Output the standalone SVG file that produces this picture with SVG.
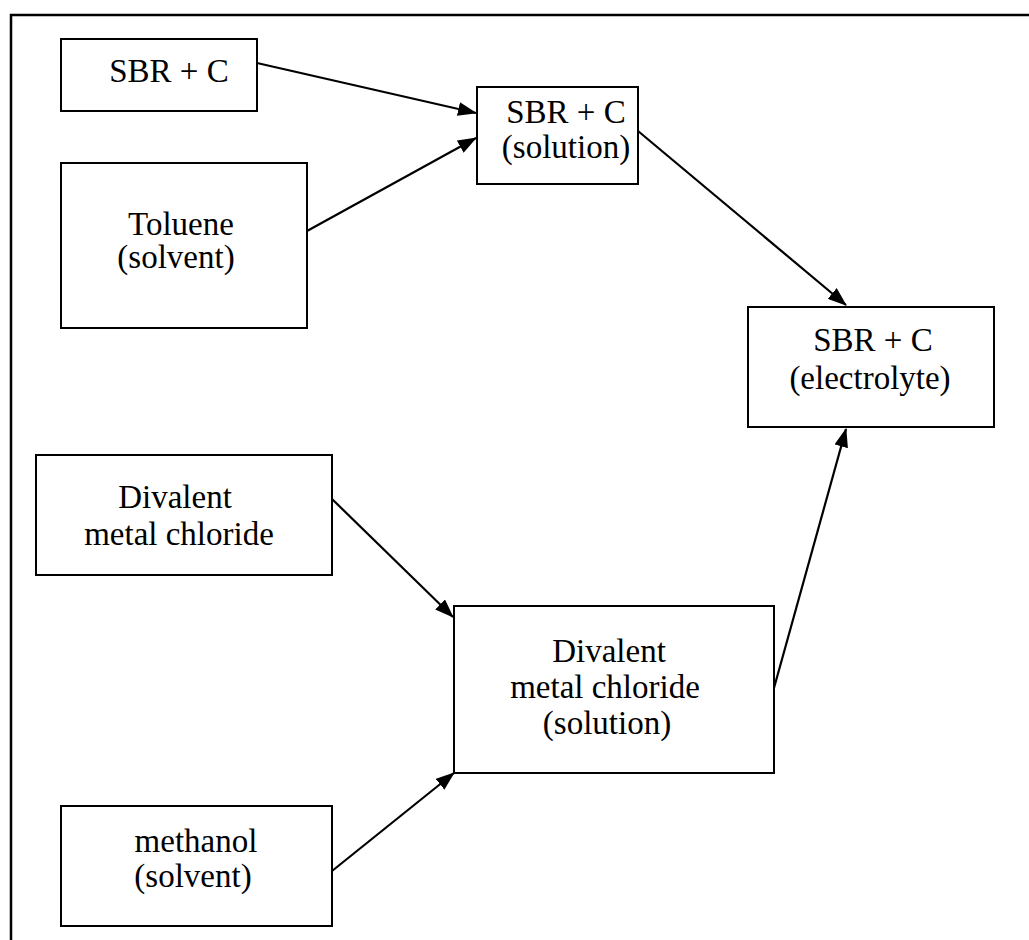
<svg xmlns="http://www.w3.org/2000/svg" width="1029" height="940" viewBox="0 0 1029 940">
<defs>
<style>
.box{fill:#fff;stroke:#000;stroke-width:2}
.t{font-family:"Liberation Serif","Times New Roman",serif;font-size:33px;fill:#000;text-anchor:middle}
.c{stroke:#000;stroke-width:2.2;fill:none;marker-end:url(#ah)}
.frame{stroke:#000;stroke-width:2.5;fill:none}
</style>
<marker id="ah" markerWidth="19" markerHeight="14" refX="18" refY="7" orient="auto" markerUnits="userSpaceOnUse">
<path d="M0,0 L19,7 L0,14 Z" fill="#000"/>
</marker>
</defs>
<rect width="1029" height="940" fill="#fff"/>
<path class="frame" d="M11,940 L11,15 L1029,15"/>
<g id="n1"><rect class="box" x="61" y="39" width="196" height="72"/><text class="t" x="169" y="82">SBR + C</text></g>
<g id="n2"><rect class="box" x="61" y="163" width="246" height="165"/><text class="t" x="181" y="235">Toluene</text><text class="t" x="176" y="268">(solvent)</text></g>
<g id="n3"><rect class="box" x="477" y="87" width="161" height="97"/><text class="t" x="566" y="123">SBR + C</text><text class="t" x="566" y="158">(solution)</text></g>
<g id="n4"><rect class="box" x="748" y="307" width="246" height="120"/><text class="t" x="873" y="351">SBR + C</text><text class="t" x="870" y="389">(electrolyte)</text></g>
<g id="n5"><rect class="box" x="36" y="455" width="296" height="120"/><text class="t" x="175" y="508">Divalent</text><text class="t" x="179" y="545">metal chloride</text></g>
<g id="n6"><rect class="box" x="61" y="806" width="271" height="120"/><text class="t" x="196" y="852">methanol</text><text class="t" x="193" y="887">(solvent)</text></g>
<g id="n7"><rect class="box" x="454" y="606" width="320" height="167"/><text class="t" x="609" y="662">Divalent</text><text class="t" x="605" y="698">metal chloride</text><text class="t" x="607" y="734">(solution)</text></g>
<g id="connectors">
<line class="c" x1="257" y1="63" x2="476" y2="113"/>
<line class="c" x1="307" y1="231" x2="476" y2="138"/>
<line class="c" x1="638" y1="131" x2="846" y2="305"/>
<line class="c" x1="332" y1="499" x2="453" y2="617"/>
<line class="c" x1="332" y1="871" x2="454" y2="773"/>
<line class="c" x1="774" y1="688" x2="846" y2="429"/>
</g>
</svg>
